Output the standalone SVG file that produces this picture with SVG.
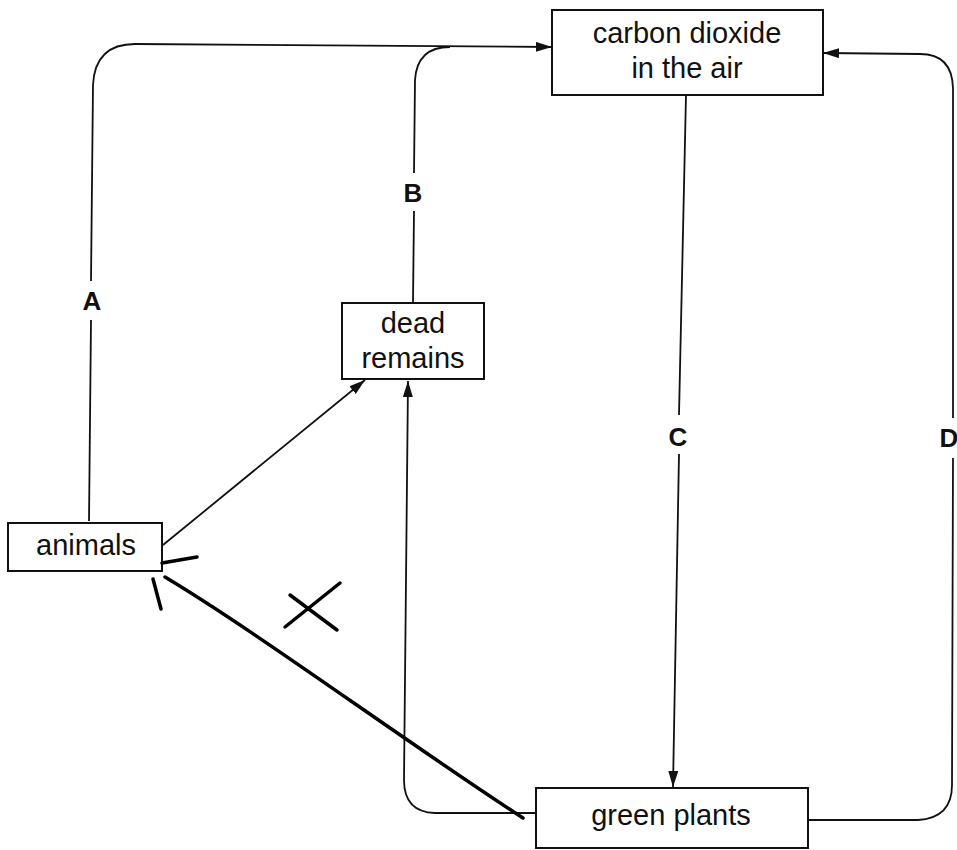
<svg xmlns="http://www.w3.org/2000/svg" width="957" height="850" viewBox="0 0 957 850">
<style>
.box{fill:#fff;stroke:#111;stroke-width:2}
.lbl{font-family:"Liberation Sans",Arial,sans-serif;font-size:29px;fill:#111;text-anchor:middle}
.let{font-family:"Liberation Sans",Arial,sans-serif;font-size:26px;font-weight:bold;fill:#111;text-anchor:middle}
.con{fill:none;stroke:#111;stroke-width:1.8}
.hand{fill:none;stroke:#000;stroke-width:3.5;stroke-linecap:round}
</style>
<defs>
<marker id="arr" viewBox="0 0 16 10" refX="16" refY="5" markerWidth="16" markerHeight="10" markerUnits="userSpaceOnUse" orient="auto">
<path d="M0,0 L16,5 L0,10 Z" fill="#111"/>
</marker>
</defs>
<rect width="957" height="850" fill="#fff"/>
<g id="connectors">
<path class="con" d="M89,521 L91,320"/>
<path class="con" d="M91,281 L93,85 Q95,44 135,44 L552,47" marker-end="url(#arr)"/>
<path class="con" d="M413,302 L414,211"/>
<path class="con" d="M414,173 L415,80 Q417,47 450,47"/>
<path class="con" d="M686,95 L679,415"/>
<path class="con" d="M679,454 L673,787" marker-end="url(#arr)"/>
<path class="con" d="M808,820 L918,820 Q952,818 952,785 L953,458"/>
<path class="con" d="M953,418 L953,88 Q952,54 920,54 L823,53" marker-end="url(#arr)"/>
<path class="con" d="M163,545 L365,380" marker-end="url(#arr)"/>
<path class="con" d="M536,813 L435,813 Q404,812 404,780 L408,381" marker-end="url(#arr)"/>
</g>
<g id="node-co2">
<rect class="box" x="552" y="10" width="271" height="85"/>
<text class="lbl" x="687" y="43">carbon dioxide</text>
<text class="lbl" x="687" y="78">in the air</text>
</g>
<g id="node-dead">
<rect class="box" x="342" y="303" width="142" height="76"/>
<text class="lbl" x="413" y="333">dead</text>
<text class="lbl" x="413" y="368">remains</text>
</g>
<g id="node-animals">
<rect class="box" x="8" y="523" width="154" height="48"/>
<text class="lbl" x="86" y="555">animals</text>
</g>
<g id="node-plants">
<rect class="box" x="536" y="788" width="272" height="60"/>
<text class="lbl" x="671" y="825">green plants</text>
</g>
<g id="labels">
<text class="let" x="92" y="310">A</text>
<text class="let" x="413" y="202">B</text>
<text class="let" x="678" y="446">C</text>
<text class="let" x="949" y="447" text-anchor="end">D</text>
</g>
<g id="handwriting">
<path class="hand" d="M165,577 C260,634 400,738 523,818"/>
<path class="hand" d="M162,563 L197,557"/>
<path class="hand" d="M153,579 L161,609"/>
<path class="hand" d="M290,595 L337,630"/>
<path class="hand" d="M285,627 L340,583"/>
</g>
</svg>
